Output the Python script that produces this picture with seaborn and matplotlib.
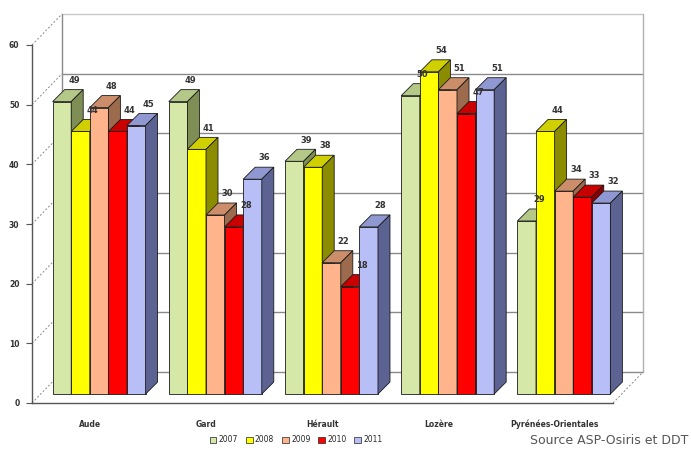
import numpy as np
import pandas as pd
import matplotlib
matplotlib.use("Agg")
import matplotlib.pyplot as plt
from matplotlib.patches import Polygon, Patch
import seaborn as sns

# ---- data ----
departements = ["Aude", "Gard", "Hérault", "Lozère", "Pyrénées-Orientales"]
years = ["2007", "2008", "2009", "2010", "2011"]
v2007 = [49, 49, 39, 50, 29]
v2008 = [44, 41, 38, 54, 44]
v2009 = [48, 30, 22, 51, 34]
v2010 = [44, 28, 18, 47, 33]
v2011 = [45, 36, 28, 51, 32]
yticks = [0, 10, 20, 30, 40, 50, 60]
source_text = "Source ASP-Osiris et DDT"

series = [v2007, v2008, v2009, v2010, v2011]
df = pd.DataFrame({
    "dept": [d for s in series for d in departements],
    "year": [y for y, s in zip(years, series) for _ in s],
    "value": [v for s in series for v in s],
})

front = ["#D6E8A8", "#FFFF00", "#FFB48C", "#FF0000", "#B8BEF6"]
top = ["#B4C888", "#D0D000", "#CC8E6A", "#C80000", "#9098D2"]
side = ["#7E8E55", "#8C8C00", "#9C6A4C", "#8E0000", "#5C6292"]

sns.set_style("white")
plt.rcParams["font.family"] = ["DejaVu Sans"]

W, H = 691, 453
fig = plt.figure(figsize=(W / 100, H / 100), dpi=100)
ax = fig.add_axes([32 / W, (H - 403) / H, 581 / W, 358 / H])

sns.barplot(data=df, x="dept", y="value", hue="year", hue_order=years,
            order=departements, palette=front, width=0.8, ax=ax,
            edgecolor="#1a1a1a", linewidth=0.6, legend=False, saturation=1)

ax.set_xlim(-0.5, 4.5)
ax.set_ylim(0, 60)

# pixel -> data conversions
pxx = 581 / 5.0
pxy = 358 / 60.0
bar_ox, bar_oy = 9 / pxx, 9 / pxy        # bars sit in the middle of the depth
dep_x, dep_y = 12 / pxx, 12 / pxy        # bar depth
wall_x, wall_y = 30 / pxx, 31 / pxy      # back wall offset

grid_c = "#8a8a8a"
for v in yticks:
    ax.plot([-0.5 + wall_x, 4.5 + wall_x], [v + wall_y, v + wall_y],
            color=grid_c if v < 60 else "#c8c8c8", lw=1.0, clip_on=False, zorder=0.5)
    ax.plot([-0.5, -0.5 + wall_x], [v, v + wall_y], color=grid_c, lw=0.7,
            ls=(0, (2, 2)), clip_on=False, zorder=0.5)
ax.plot([-0.5 + wall_x] * 2, [wall_y, 60 + wall_y], color=grid_c, lw=1.0, clip_on=False, zorder=0.5)
ax.plot([4.5 + wall_x] * 2, [wall_y, 60 + wall_y], color="#b0b0b0", lw=1.0, clip_on=False, zorder=0.5)
ax.plot([4.5, 4.5 + wall_x], [0, wall_y], color=grid_c, lw=0.7, ls=(0, (2, 2)),
        clip_on=False, zorder=0.5)

# pseudo-3D bars
patches = list(ax.patches)
order = sorted(range(len(patches)), key=lambda i: patches[i].get_x())
for rank, i in enumerate(order):
    p = patches[i]
    hue_idx = i // len(departements)
    x0 = p.get_x() + bar_ox
    w = p.get_width()
    h = p.get_height()
    p.set_x(x0)
    p.set_y(bar_oy)
    p.set_zorder(2 + rank * 0.01)
    yb, yt = bar_oy, bar_oy + h
    x1 = x0 + w
    topf = Polygon([(x0, yt), (x1, yt), (x1 + dep_x, yt + dep_y), (x0 + dep_x, yt + dep_y)],
                   closed=True, facecolor=top[hue_idx], edgecolor="#1a1a1a", lw=0.6,
                   zorder=2 + rank * 0.01 + 0.001, clip_on=False)
    sidef = Polygon([(x1, yb), (x1 + dep_x, yb + dep_y), (x1 + dep_x, yt + dep_y), (x1, yt)],
                    closed=True, facecolor=side[hue_idx], edgecolor="#1a1a1a", lw=0.6,
                    zorder=2 + rank * 0.01 + 0.001, clip_on=False)
    ax.add_patch(topf)
    ax.add_patch(sidef)
    ax.text(x0 + w / 2 + dep_x, yt + dep_y + 0.8, f"{int(round(h))}",
            ha="center", va="bottom", fontsize=6, fontweight="bold",
            color="#333333", zorder=5)

# axes styling
for s in ["top", "right"]:
    ax.spines[s].set_visible(False)
for s in ["left", "bottom"]:
    ax.spines[s].set_color("#555555")
    ax.spines[s].set_linewidth(1.0)
ax.set_yticks(yticks)
ax.set_yticklabels([str(t) for t in yticks], fontsize=5.5, fontweight="bold", color="#333333")
ax.set_xticks(range(len(departements)))
ax.set_xticklabels(departements, fontsize=5.5, fontweight="bold", color="#333333")
ax.set_xticks(np.arange(-0.5, 5.0, 1.0), minor=True)
ax.tick_params(axis="x", which="major", length=0, pad=12)
ax.tick_params(axis="x", which="minor", length=4, color="#555555", direction="out")
ax.tick_params(axis="y", length=4, color="#555555", direction="out", pad=5, left=True)
ax.set_xlabel("")
ax.set_ylabel("")
ax.grid(False)

handles = [Patch(facecolor=c, edgecolor="#222222", lw=0.5, label=y) for c, y in zip(front, years)]
fig.legend(handles=handles, loc="center", bbox_to_anchor=(296 / W, 1 - 440 / H), ncol=5,
           frameon=False, fontsize=5.5, handlelength=0.9, handleheight=0.9,
           columnspacing=1.0, handletextpad=0.3)

fig.text(688 / W, 1 - 441 / H, source_text, fontsize=9, color="#555555",
         ha="right", va="center")

fig.savefig("out.png", dpi=100)
